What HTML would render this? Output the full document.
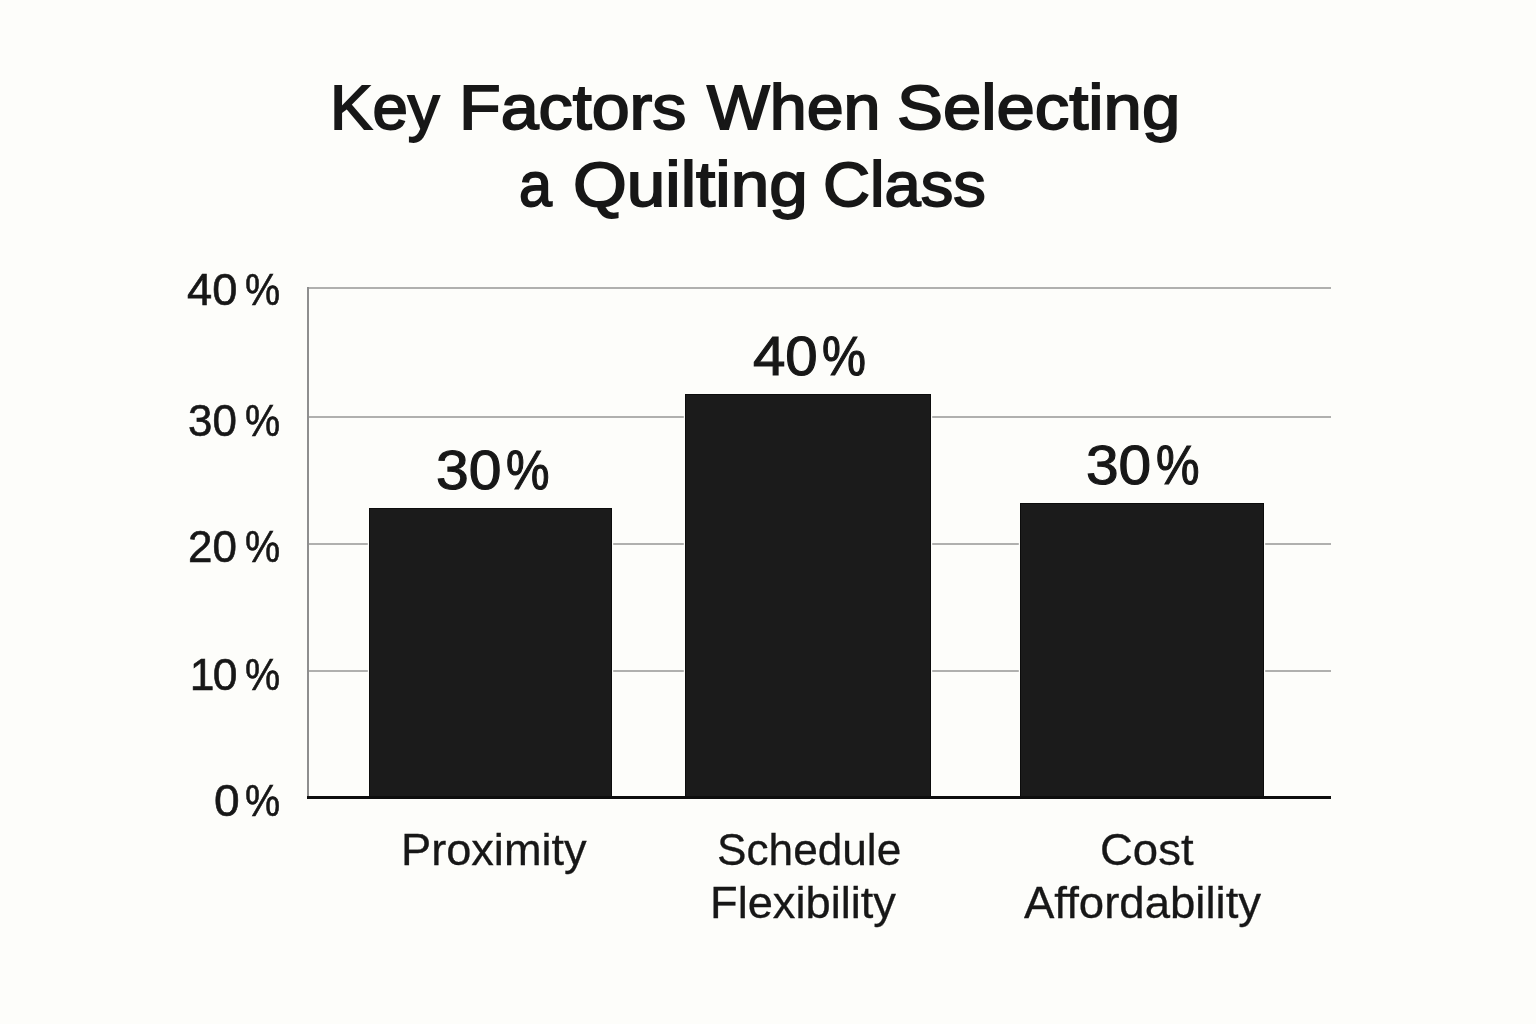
<!DOCTYPE html>
<html lang="en">
<head>
<meta charset="utf-8">
<title>Key Factors When Selecting a Quilting Class</title>
<style>
  html, body { margin: 0; padding: 0; }
  body {
    width: 1536px; height: 1024px; overflow: hidden;
    background: #fdfdfa;
    font-family: "Liberation Sans", Arial, Helvetica, sans-serif;
    color: #171717;
    position: relative;
  }
  .g { margin: 0; padding: 0; font: inherit; }
  .tx { position: absolute; display: block; white-space: nowrap; line-height: 1; transform-origin: 0 0; }
  .title { -webkit-text-stroke: 1.8px #171717; }
  .ylab  { -webkit-text-stroke: 0.6px #171717; }
  .blab  { -webkit-text-stroke: 1.1px #171717; }
  .clab  { -webkit-text-stroke: 0.3px #171717; }
  .grid { position: absolute; left: 308px; width: 1023.3px; height: 2px; background: #b0b0ae; }
  .axis { position: absolute; left: 307px; top: 287.2px; width: 2.1px; height: 510px; background: #8e8e8e; }
  .base { position: absolute; left: 307px; top: 796px; width: 1024.3px; height: 2.5px; background: #0e0e0e; }
  .bar { position: absolute; background: #1b1b1b; box-shadow: inset 0 0 0 1px #0c0c0c, 0 0 0 1.2px #fdfdfa; }
</style>
</head>
<body>
  <h1 class="g">
    <span class="tx title" id="t1a" style="left:329.95px; top:75.98px; font-size:63.00px; transform:scaleX(1.0093);">Key</span>
    <span class="tx title" id="t1b" style="left:458.98px; top:75.98px; font-size:63.00px; transform:scaleX(1.0828);">Factors</span>
    <span class="tx title" id="t1c" style="left:707.21px; top:75.98px; font-size:63.00px; transform:scaleX(1.0545);">When</span>
    <span class="tx title" id="t1d" style="left:897.49px; top:75.98px; font-size:63.00px; transform:scaleX(1.0927);">Selecting</span>
    <br>
    <span class="tx title" id="t2a" style="left:519.31px; top:152.98px; font-size:63.00px; transform:scaleX(0.9400);">a</span>
    <span class="tx title" id="t2b" style="left:572.96px; top:152.98px; font-size:63.00px; transform:scaleX(1.0983);">Quilting</span>
    <span class="tx title" id="t2c" style="left:823.30px; top:152.98px; font-size:63.00px; transform:scaleX(1.0338);">Class</span>
  </h1>

  <div class="grid" style="top:287.3px"></div>
  <div class="grid" style="top:415.6px"></div>
  <div class="grid" style="top:542.5px"></div>
  <div class="grid" style="top:669.8px"></div>
  <div class="axis"></div>

  <div class="g"><span class="tx ylab" id="y40d" style="left:187.43px; top:267.97px; font-size:44.40px; transform:scaleX(1.0193);">40</span> <span class="tx ylab" id="y40p" style="left:244.73px; top:267.97px; font-size:44.40px; transform:scaleX(0.8913);">%</span></div>
  <div class="g"><span class="tx ylab" id="y30d" style="left:188.27px; top:399.01px; font-size:44.40px; transform:scaleX(0.9894);">30</span> <span class="tx ylab" id="y30p" style="left:244.73px; top:399.03px; font-size:44.40px; transform:scaleX(0.8913);">%</span></div>
  <div class="g"><span class="tx ylab" id="y20d" style="left:188.46px; top:524.97px; font-size:44.40px; transform:scaleX(0.9895);">20</span> <span class="tx ylab" id="y20p" style="left:244.73px; top:525.03px; font-size:44.40px; transform:scaleX(0.8913);">%</span></div>
  <div class="g"><span class="tx ylab" id="y10d" style="left:189.87px; top:652.92px; font-size:44.40px; letter-spacing:-1.80px;">10</span> <span class="tx ylab" id="y10p" style="left:244.73px; top:652.92px; font-size:44.40px; transform:scaleX(0.8913);">%</span></div>
  <div class="g"><span class="tx ylab" id="y0d" style="left:214.04px; top:779.11px; font-size:44.40px; transform:scaleX(1.0389);">0</span> <span class="tx ylab" id="y0p" style="left:244.73px; top:778.88px; font-size:44.40px; transform:scaleX(0.8913);">%</span></div>

  <div class="bar" style="left:369.1px; top:508.4px; width:242.5px; height:289px"></div>
  <div class="bar" style="left:685px; top:394.2px; width:246.3px; height:403px"></div>
  <div class="bar" style="left:1020.3px; top:503.2px; width:243.5px; height:294px"></div>
  <div class="base"></div>

  <div class="g"><span class="tx blab" id="b1d" style="left:436.39px; top:442.92px; font-size:54.80px; transform:scaleX(1.0747);">30</span><span class="tx blab" id="b1p" style="left:505.93px; top:442.92px; font-size:54.80px; transform:scaleX(0.8932);">%</span></div>
  <div class="g"><span class="tx blab" id="b2d" style="left:753.01px; top:329.03px; font-size:54.80px; transform:scaleX(1.0622);">40</span><span class="tx blab" id="b2p" style="left:821.57px; top:329.03px; font-size:54.80px; transform:scaleX(0.9027);">%</span></div>
  <div class="g"><span class="tx blab" id="b3d" style="left:1086.19px; top:438.03px; font-size:54.80px; transform:scaleX(1.0703);">30</span><span class="tx blab" id="b3p" style="left:1155.57px; top:438.01px; font-size:54.80px; transform:scaleX(0.8932);">%</span></div>

  <div class="g"><span class="tx clab" id="c1" style="left:401.31px; top:827.98px; font-size:44.00px; transform:scaleX(1.0265);">Proximity</span></div>
  <div class="g"><span class="tx clab" id="c2a" style="left:717.23px; top:828.08px; font-size:44.00px; transform:scaleX(1.0042);">Schedule</span> <span class="tx clab" id="c2b" style="left:709.89px; top:881.08px; font-size:44.00px; transform:scaleX(1.0279);">Flexibility</span></div>
  <div class="g"><span class="tx clab" id="c3a" style="left:1100.39px; top:827.88px; font-size:44.00px; transform:scaleX(1.0337);">Cost</span> <span class="tx clab" id="c3b" style="left:1023.82px; top:881.08px; font-size:44.00px; transform:scaleX(1.0349);">Affordability</span></div>
</body>
</html>
